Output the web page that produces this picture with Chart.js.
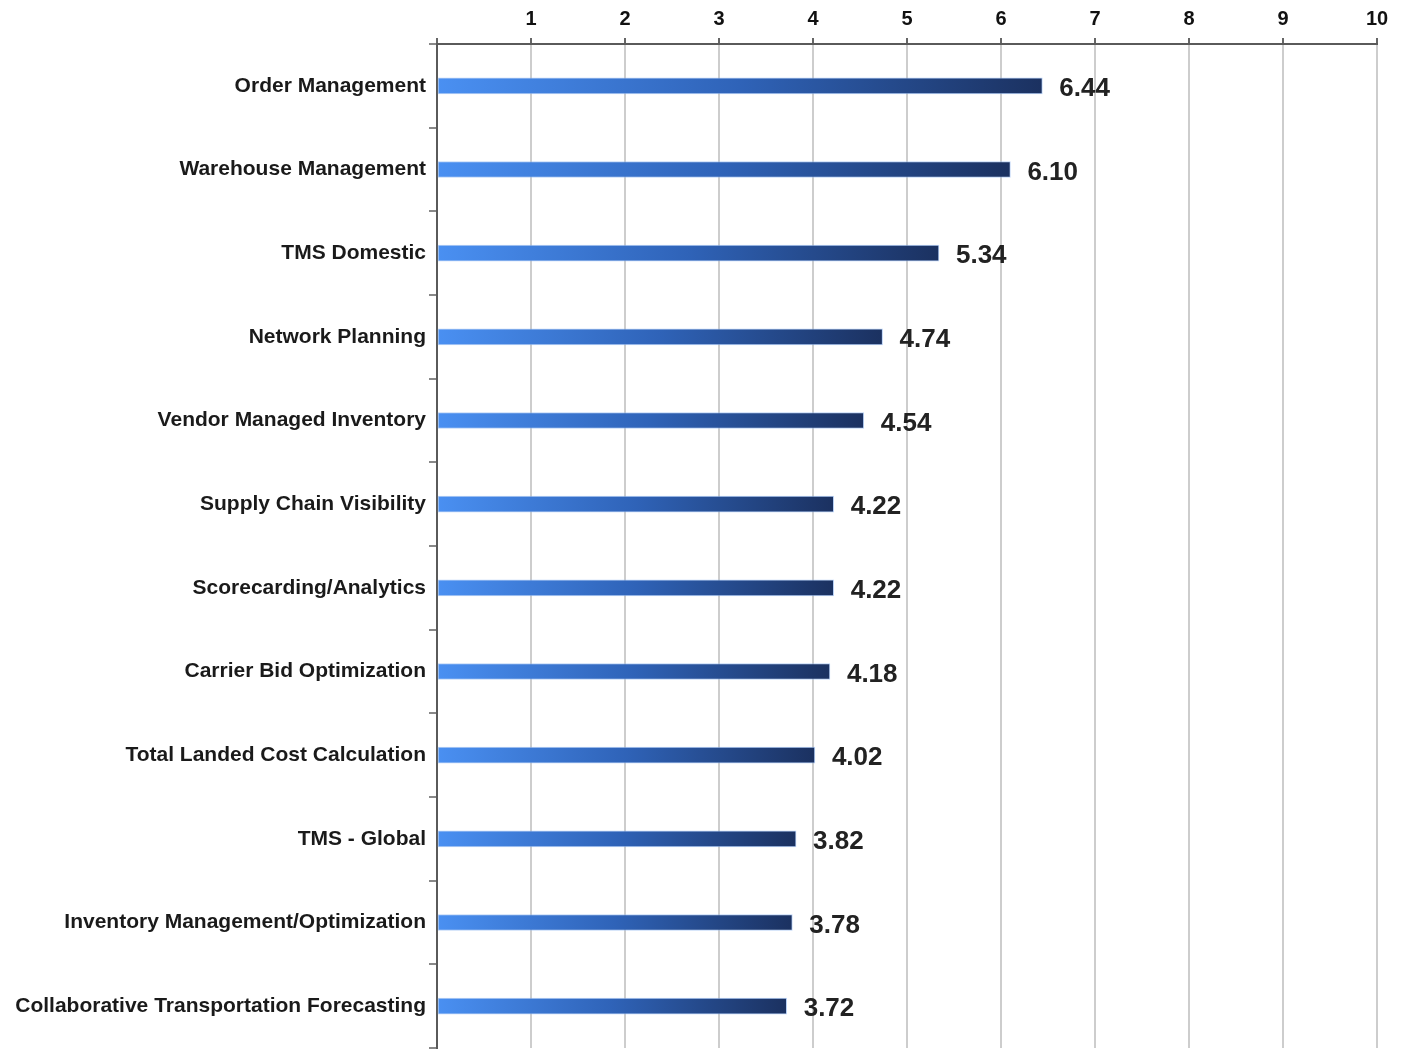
<!DOCTYPE html>
<html>
<head>
<meta charset="utf-8">
<title>Supply chain application scores</title>
<script src="https://cdn.jsdelivr.net/npm/chart.js@4/dist/chart.umd.min.js"></script>
<style>
  html, body { margin: 0; padding: 0; background: #fff; }
  #wrap { width: 1401px; height: 1053px; }
</style>
</head>
<body>
<div id="wrap"><canvas id="scores"></canvas></div>
<script>
var categories = [
    "Order Management",
    "Warehouse Management",
    "TMS Domestic",
    "Network Planning",
    "Vendor Managed Inventory",
    "Supply Chain Visibility",
    "Scorecarding/Analytics",
    "Carrier Bid Optimization",
    "Total Landed Cost Calculation",
    "TMS - Global",
    "Inventory Management/Optimization",
    "Collaborative Transportation Forecasting"
];
var scores = [6.44, 6.10, 5.34, 4.74, 4.54, 4.22, 4.22, 4.18, 4.02, 3.82, 3.78, 3.72];
var xTicks = [1, 2, 3, 4, 5, 6, 7, 8, 9, 10];

var FONT = "'Liberation Sans', Arial, sans-serif";

// each bar fades from light blue at zero to navy at its own end
function barGradient(context) {
    var chart = context.chart;
    var xs = chart.scales.x;
    if (!xs || !chart.chartArea) return "#3b6fc4";
    var x0 = xs.getPixelForValue(0);
    var x1 = xs.getPixelForValue(scores[context.dataIndex]);
    if (!isFinite(x0) || !isFinite(x1) || x1 <= x0) return "#3b6fc4";
    var g = chart.ctx.createLinearGradient(x0, 0, x1, 0);
    g.addColorStop(0, "#4a90f2");
    g.addColorStop(0.5, "#2f63b8");
    g.addColorStop(1, "#1b3160");
    return g;
}

var valueLabels = {
    id: "valueLabels",
    afterDatasetsDraw: function(chart) {
        var ctx = chart.ctx;
        var meta = chart.getDatasetMeta(0);
        ctx.save();
        ctx.font = "bold 26px " + FONT;
        ctx.fillStyle = "#222";
        ctx.textAlign = "left";
        ctx.textBaseline = "middle";
        meta.data.forEach(function(bar, i) {
            ctx.fillText(scores[i].toFixed(2), bar.x + 17, bar.y + 3);
        });
        ctx.restore();
    }
};

new Chart(document.getElementById("scores"), {
    type: "bar",
    data: {
        labels: categories,
        datasets: [{
            data: scores,
            backgroundColor: barGradient,
            borderColor: "rgba(140,180,240,0.6)",
            borderWidth: 1,
            borderSkipped: false,
            barThickness: 16
        }]
    },
    options: {
        indexAxis: "y",
        responsive: true,
        maintainAspectRatio: false,
        animation: false,
        layout: { padding: { left: 0, right: 24, top: 0, bottom: 5 } },
        plugins: {
            legend: { display: false },
            tooltip: { enabled: false }
        },
        scales: {
            x: {
                position: "top",
                min: 0,
                max: 10,
                afterBuildTicks: function(scale) {
                    scale.ticks = [0].concat(xTicks).map(function(v) { return { value: v }; });
                },
                afterFit: function(scale) {
                    scale.height = 44;
                    scale.paddingLeft = 0;
                    scale.paddingRight = 0;
                },
                ticks: {
                    color: "#111",
                    padding: 7,
                    font: { family: FONT, size: 20, weight: "bold" },
                    callback: function(v) { return v === 0 ? "" : v; }
                },
                grid: {
                    color: "#cdcdcd",
                    lineWidth: 2,
                    tickLength: 6,
                    tickColor: "#666"
                },
                border: { color: "#5a5a5a", width: 2 }
            },
            y: {
                afterFit: function(scale) {
                    scale.width = 437;
                    scale.paddingTop = 0;
                    scale.paddingBottom = 0;
                },
                ticks: {
                    color: "#1a1a1a",
                    padding: 3,
                    font: { family: FONT, size: 21, weight: "bold" }
                },
                grid: {
                    drawOnChartArea: false,
                    tickLength: 8,
                    tickColor: "#888",
                    lineWidth: 2
                },
                border: { color: "#5a5a5a", width: 2 }
            }
        }
    },
    plugins: [valueLabels]
});
</script>
</body>
</html>
